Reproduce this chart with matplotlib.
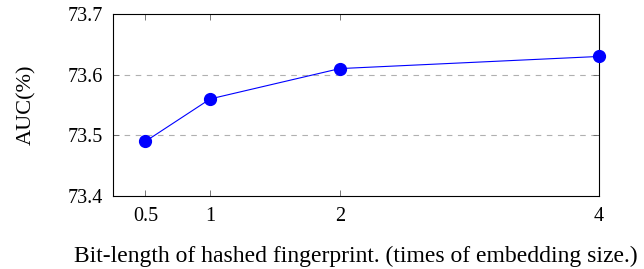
import matplotlib
matplotlib.use('Agg')
import matplotlib.pyplot as plt

# bit length (times of embedding size) vs AUC
BitLength = [0.5, 1, 2, 4]
AUC = [73.49, 73.56, 73.61, 73.63]
YTicks = [73.4, 73.5, 73.6, 73.7]

plt.rcParams['font.family'] = ['Liberation Serif', 'DejaVu Serif']

fig = plt.figure(figsize=(6.44, 2.69), dpi=100)
ax = fig.add_axes([0.1755, 0.2714, 0.7545, 0.6766])

ax.plot(BitLength, AUC, color='blue', linewidth=0.8, marker='o', markersize=8.5, zorder=3, clip_on=False)

ax.set_xlim(0.25, 4)
ax.set_ylim(73.4, 73.7)
ax.set_xticks(BitLength)
ax.set_xticklabels(['0.5', '1', '2', '4'])
ax.set_yticks(YTicks)
ax.set_yticklabels(['%.1f' % v for v in YTicks])

for y in YTicks[1:-1]:
    ax.axhline(y, color='#b0b0b0', linestyle=(0, (5, 5)), linewidth=0.8, zorder=1)

ax.tick_params(direction='in', length=4, width=0.6, color='#606060', top=True, right=True, labelsize=14.5)
ax.tick_params(axis='x', pad=8)
ax.tick_params(axis='y', pad=7)
for s in ax.spines.values():
    s.set_linewidth(0.8)

ax.set_ylabel('AUC(%)', fontsize=16, labelpad=23)
ax.set_xlabel('Bit-length of hashed fingerprint. (times of embedding size.)', fontsize=17, labelpad=14)

fig.savefig('out.png', dpi=100)
